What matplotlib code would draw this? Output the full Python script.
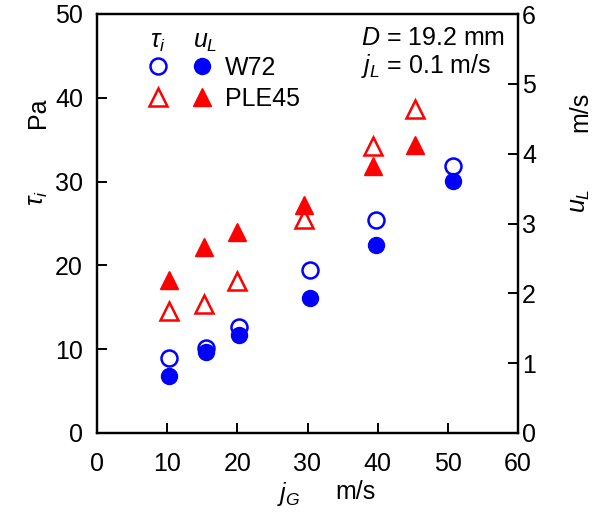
"""Interfacial shear stress and liquid film velocity vs gas superficial velocity."""

import matplotlib
matplotlib.use("Agg")
import matplotlib.pyplot as plt
from matplotlib import font_manager
from matplotlib.legend_handler import HandlerTuple
from matplotlib.lines import Line2D

# ─── Data ──────────────────────────────────────────────────────────────
JG_W72 = [10.2, 15.5, 20.3, 30.4, 39.8, 50.7]
TAU_W72 = [9.0, 10.2, 12.7, 19.4, 25.4, 31.9]
UL_W72 = [0.81, 1.16, 1.41, 1.93, 2.69, 3.61]

JG_PLE45 = [10.2, 15.2, 20.0, 29.5, 39.4, 45.3]
TAU_PLE45 = [14.5, 15.4, 18.1, 25.5, 34.3, 38.7]
UL_PLE45 = [2.19, 2.66, 2.88, 3.26, 3.82, 4.12]

X_TICKS = [0, 10, 20, 30, 40, 50, 60]
TAU_TICKS = [0, 10, 20, 30, 40, 50]
UL_TICKS = [0, 1, 2, 3, 4, 5, 6]

BLUE = "#0000FF"
RED = "#FF0000"

W, H = 592, 514

available = {f.name for f in font_manager.fontManager.ttflist}
FAMILY = "Liberation Sans Narrow" if "Liberation Sans Narrow" in available else "Liberation Sans"
FS = 20 if FAMILY == "Liberation Sans Narrow" else 18

plt.rcParams.update({
    "font.family": [FAMILY, "DejaVu Sans"],
    "font.size": FS,
    "mathtext.fontset": "custom",
    "mathtext.rm": FAMILY,
    "mathtext.it": f"{FAMILY}:italic",
    "axes.linewidth": 1.6,
})

fig = plt.figure(figsize=(W / 100, H / 100), dpi=100)
ax = fig.add_axes([97 / W, 1 - 433 / H, 421 / W, 419 / H])
ax2 = ax.twinx()

ms = 11.5
# tau_i : open markers (left axis)
ax.plot(JG_W72, TAU_W72, "o", ms=ms, mfc="white", mec=BLUE, mew=1.8, zorder=3)
ax.plot(JG_PLE45, TAU_PLE45, "^", ms=ms + 1, mfc="white", mec=RED, mew=1.8, zorder=3)
# u_L : filled markers (right axis)
ax2.plot(JG_W72, UL_W72, "o", ms=ms, color=BLUE, zorder=3)
ax2.plot(JG_PLE45, UL_PLE45, "^", ms=ms + 1, color=RED, zorder=3)

ax.set_xlim(0, 60)
ax.set_ylim(0, 50)
ax2.set_ylim(0, 6)
ax.set_xticks(X_TICKS)
ax.set_yticks(TAU_TICKS)
ax2.set_yticks(UL_TICKS)

ax.tick_params(axis="x", direction="in", length=7, width=1.4, pad=14)
ax.tick_params(axis="y", direction="in", length=7, width=1.4, pad=10)
ax2.tick_params(axis="y", direction="in", length=7, width=1.4, pad=3)

# ─── Axis titles ──────────────────────────────────────────────────────
fig.text(38 / W, 1 - 198 / H, r"$\tau_i$", rotation=90, ha="center", va="center")
fig.text(38 / W, 1 - 113 / H, "Pa", rotation=90, ha="center", va="center")
fig.text(580 / W, 1 - 201 / H, r"$u_L$", rotation=90, ha="center", va="center")
fig.text(580 / W, 1 - 112 / H, "m/s", rotation=90, ha="center", va="center")
fig.text(289 / W, 1 - 494 / H, r"$j_G$", ha="center", va="center")
fig.text(355 / W, 1 - 492 / H, "m/s", ha="center", va="center")

# ─── Legend ───────────────────────────────────────────────────────────
h_w72 = (Line2D([], [], ls="none", marker="o", ms=ms, mfc="white", mec=BLUE, mew=1.8),
         Line2D([], [], ls="none", marker="o", ms=ms, color=BLUE))
h_ple = (Line2D([], [], ls="none", marker="^", ms=ms + 1, mfc="white", mec=RED, mew=1.8),
         Line2D([], [], ls="none", marker="^", ms=ms + 1, color=RED))
ax.legend([h_w72, h_ple], ["W72", "PLE45"],
          handler_map={tuple: HandlerTuple(ndivide=None, pad=1.04)},
          loc="upper left", bbox_to_anchor=((149 - 97) / 421, (433 - 56) / 419),
          frameon=False, borderpad=0, borderaxespad=0, handlelength=2.48,
          handletextpad=0.56, labelspacing=0.28, numpoints=1)
ax.text((158 - 97) / 421, (433 - 42) / 419, r"$\tau_i$", transform=ax.transAxes,
        ha="center", va="center")
ax.text((205 - 97) / 421, (433 - 42) / 419, r"$u_L$", transform=ax.transAxes,
        ha="center", va="center")

# ─── Conditions ───────────────────────────────────────────────────────
ax.text((361 - 97) / 421, (433 - 38) / 419, r"$D$ = 19.2 mm", transform=ax.transAxes,
        ha="left", va="center")
ax.text((361 - 97) / 421, (433 - 66) / 419, r"$j_L$ = 0.1 m/s", transform=ax.transAxes,
        ha="left", va="center")

fig.savefig("out.png", dpi=100)
